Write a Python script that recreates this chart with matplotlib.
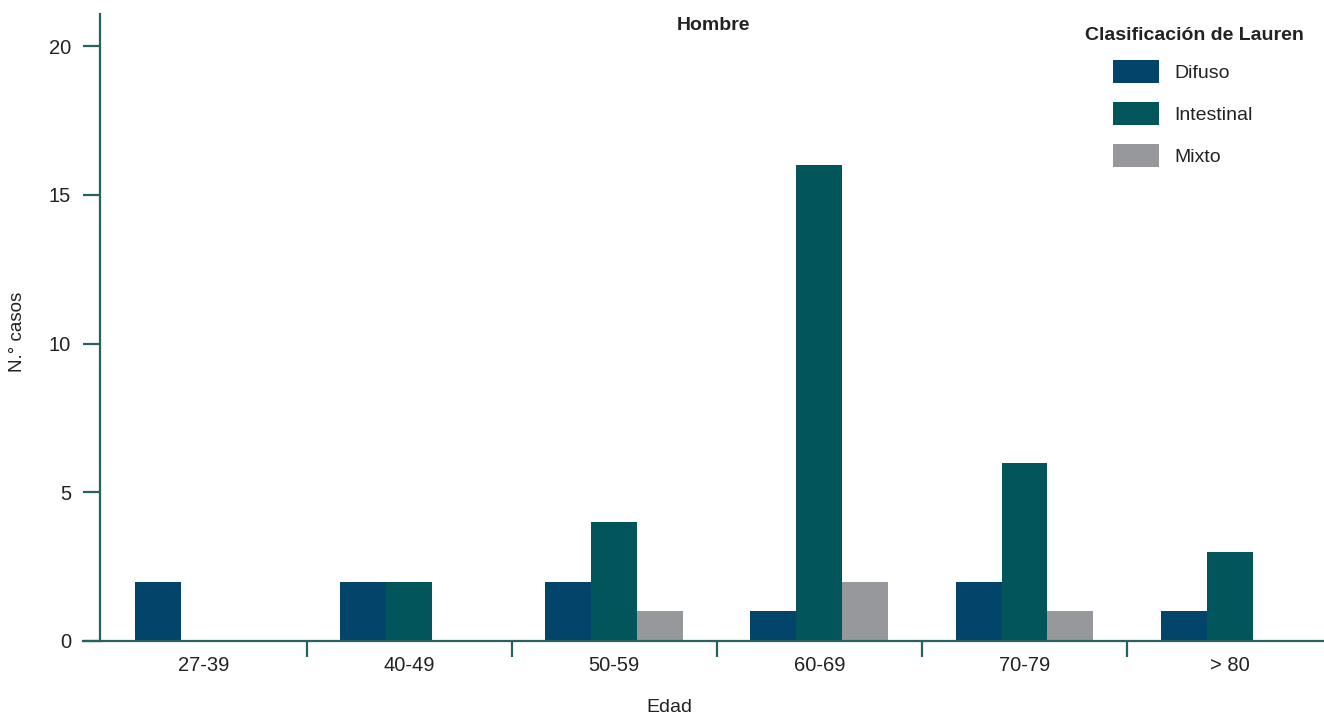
import matplotlib.pyplot as plt
import numpy as np

plt.rcParams['font.family'] = ['Liberation Sans', 'DejaVu Sans']

# data
edades = ['27-39', '40-49', '50-59', '60-69', '70-79', '> 80']
difuso = [2, 2, 2, 1, 2, 1]
intestinal = [0, 2, 4, 16, 6, 3]
mixto = [0, 0, 1, 2, 1, 0]

c_dif = '#02446A'
c_int = '#02555A'
c_mix = '#97989C'
c_axis = '#26625F'
c_txt = '#222222'

W, H = 1324, 717
fig = plt.figure(figsize=(W / 100, H / 100), dpi=100)
ax = fig.add_axes([83 / W, (H - 641) / H, (W - 83) / W, (641 - 14) / H])

x = np.arange(len(edades))
w = 0.224
ax.bar(x - w, difuso, w, color=c_dif, label='Difuso')
ax.bar(x, intestinal, w, color=c_int, label='Intestinal')
ax.bar(x + w, mixto, w, color=c_mix, label='Mixto')

ax.set_xlim(-0.59, 5.46)
ax.set_ylim(0, 21.08)

for s in ['top', 'right']:
    ax.spines[s].set_visible(False)
ax.spines['left'].set_position(('data', -0.505))
for s in ['left', 'bottom']:
    ax.spines[s].set_color(c_axis)
    ax.spines[s].set_linewidth(1.6)

ax.set_yticks([0, 5, 10, 15, 20])
ax.tick_params(axis='y', length=12.2, width=1.6, color=c_axis, pad=9,
               labelsize=14.5, labelcolor=c_txt)

# separators between groups as major ticks, labels on minor ticks
ax.set_xticks(x[:-1] + 0.5)
ax.set_xticklabels([])
ax.set_xticks(x, minor=True)
ax.set_xticklabels(edades, minor=True)
ax.tick_params(axis='x', which='major', length=11.5, width=1.6, color=c_axis)
ax.tick_params(axis='x', which='minor', length=0, pad=11, labelsize=14.5,
               labelcolor=c_txt)

fig.text(714 / W, 1 - 26 / H, 'Hombre', ha='center', va='center',
         fontsize=14, fontweight='bold', color=c_txt)
fig.text(1085 / W, 1 - 36 / H, 'Clasificación de Lauren', ha='left',
         va='center', fontsize=14, fontweight='bold', color=c_txt)
fig.text(18 / W, 1 - 332 / H, 'N.° casos', rotation=90, ha='center',
         va='center', fontsize=13.5, color=c_txt)
fig.text(669 / W, 1 - 708 / H, 'Edad', ha='center', va='center',
         fontsize=14, color=c_txt)

leg = ax.legend(loc='upper left', bbox_to_anchor=(1113 / W, 1 - 60 / H),
                bbox_transform=fig.transFigure, frameon=False, fontsize=14,
                handlelength=2.37, handleheight=1.42, handletextpad=0.77,
                labelspacing=1.0, borderpad=0, borderaxespad=0)
for t in leg.get_texts():
    t.set_color(c_txt)

fig.savefig('out.png', dpi=100)
